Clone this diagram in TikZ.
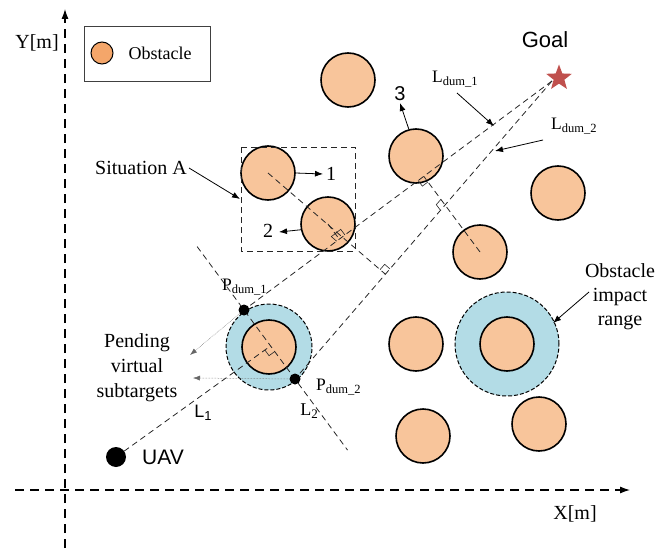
\documentclass[tikz,border=0pt]{standalone}
\usepackage{fontspec}
\setmainfont{Liberation Serif}
\setsansfont{Liberation Sans}
\usetikzlibrary{arrows.meta,shapes.geometric,calc}
\definecolor{peach}{HTML}{F8C59B}
\definecolor{legor}{HTML}{F4A66A}
\definecolor{impblue}{HTML}{B3DCE6}
\definecolor{goalred}{HTML}{C0504D}
\newcommand{\dsub}[1]{{\fontsize{12.5}{12.5}\selectfont\raisebox{-3.5pt}{#1}}}
\newcommand{\ramark}[3]{\draw[ramk] ($(#1)!7pt!(#2)$) -- ($(#1)!7pt!(#2)+(#1)!7pt!(#3)-(#1)$) -- ($(#1)!7pt!(#3)$);}
\begin{document}
\begin{tikzpicture}[x=1pt,y=-1pt,
  obs/.style={circle, draw=black, line width=1.6pt, fill=peach, minimum size=54pt, inner sep=0pt},
  impact/.style={circle, draw=black, dash pattern=on 4pt off 2pt, line width=1pt, fill=impblue, minimum size=#1, inner sep=0pt},
  dline/.style={dash pattern=on 6pt off 4pt, line width=0.8pt, black!85},
  axisline/.style={dash pattern=on 9pt off 6pt, line width=1.1pt, -{Latex[length=10pt,width=7pt]}},
  arr/.style={-{Latex[length=8pt,width=6pt]}, line width=0.8pt},
  parr/.style={-{Latex[length=7pt,width=5pt]}, densely dotted, line width=0.5pt, black!60},
  ramk/.style={line width=0.6pt, black!85},
  dotpt/.style={circle, fill=black, minimum size=#1, inner sep=0pt},
  txt/.style={font=\fontsize{20}{24}\selectfont, inner sep=0pt},
  stxt/.style={font=\sffamily\fontsize{21}{24}\selectfont, inner sep=0pt},
  lab/.style={font=\fontsize{17.5}{20}\selectfont, inner sep=0pt, anchor=west}]
\useasboundingbox (0,0) rectangle (656,551);

% axes
\coordinate (ya) at (65,548); \coordinate (yb) at (65,9);
\coordinate (xa) at (15,490); \coordinate (xb) at (630,490);
\draw[axisline] (ya) -- (yb);
\draw[axisline] (xa) -- (xb);
\node[txt] (ylab) at (37,43) {Y[m]};
\node[txt] (xlab) at (575,514) {X[m]};

% legend
\coordinate (lg1) at (84,26); \coordinate (lg2) at (210,81);
\draw[line width=0.9pt, black!75] (lg1) rectangle (lg2);
\node[circle, draw=black, line width=1pt, fill=legor, minimum size=22pt, inner sep=0pt] (legc) at (102,53) {};
\node[font=\fontsize{18}{20}\selectfont, inner sep=0pt] (legt) at (160,53) {Obstacle};

% impact ranges
\node[impact=86pt] (imp5) at (269,347) {};
\node[impact=104pt] (imp8) at (507,344) {};

% obstacles
\node[obs] (c0) at (348,80) {};
\node[obs] (c1) at (268,173) {};
\node[obs] (c2) at (328,224) {};
\node[obs] (c3) at (416,156) {};
\node[obs] (c4) at (558,193) {};
\node[obs] (c6) at (480,252) {};
\node[obs] (c5) at (269,347) {};
\node[obs] (c7) at (416,344) {};
\node[obs] (c8) at (507,344) {};
\node[obs] (c9) at (423,436) {};
\node[obs] (c10) at (539,424) {};

% key points
\coordinate (gc) at (552,81);
\coordinate (pd1) at (244,310);
\coordinate (pd2) at (295,379);
\coordinate (uavc) at (116,457);

% situation A box
\coordinate (sa1) at (241,147); \coordinate (sa2) at (355,251);
\draw[dline, line width=0.9pt] (sa1) rectangle (sa2);

% dashed construction lines
\draw[dline] (gc) -- (pd1);
\draw[dline] (gc) -- (pd2);
\coordinate (l2a) at ($(pd1)!-0.92!(pd2)$);
\coordinate (l2b) at ($(pd1)!2.03!(pd2)$);
\draw[dline] (l2a) -- (l2b);
\coordinate (x12) at (intersection of uavc--c5.center and pd1--pd2);
\draw[dline] (uavc) -- (x12);
\ramark{x12}{uavc}{pd2}

% perpendiculars
\coordinate (f1) at ($(gc)!(c1.center)!(pd2)$);
\coordinate (i1) at (intersection of c1.center--f1 and gc--pd1);
\draw[dline] (c1.center) -- (f1);
\ramark{f1}{c1.center}{gc}
\ramark{i1}{c1.center}{pd1}
\coordinate (f2) at ($(gc)!(c2.center)!(pd1)$);
\draw[dline] (c2.center) -- (f2);
\ramark{f2}{c2.center}{gc}
\coordinate (f6) at ($(gc)!(c6.center)!(pd1)$);
\coordinate (i6) at (intersection of c6.center--f6 and gc--pd2);
\draw[dline] (c6.center) -- (f6);
\ramark{f6}{c6.center}{pd1}
\ramark{i6}{f6}{pd2}

% goal
\node[star, star points=5, star point ratio=2.4, fill=goalred, minimum size=27pt, inner sep=0pt] (goal) at (559,78) {};
\node[stxt, font=\sffamily\fontsize{22}{24}\selectfont] (goalt) at (545,40) {Goal};

% UAV and points
\node[dotpt=20pt] (uav) at (uavc) {};
\node[stxt] (uavt) at (163,457) {UAV};
\node[dotpt=11pt] (p1) at (pd1) {};
\node[dotpt=11pt] (p2) at (pd2) {};
\node[lab] (p1t) at (222,287) {P\dsub{dum\_1}};
\node[lab] (p2t) at (316,387) {P\dsub{dum\_2}};

% pending virtual subtargets
\node[txt, align=center, font=\fontsize{20}{25}\selectfont] (pend) at (137,368) {Pending\\virtual\\subtargets};
\coordinate (pe1) at (190,355);
\coordinate (pe2) at (193,378);
\draw[parr] (p1) -- (pe1);
\draw[parr] (p2) -- (pe2);

% L labels
\node[font=\sffamily\fontsize{18}{20}\selectfont, inner sep=0pt] (l1t) at (203,413) {L\raisebox{-3pt}{\fontsize{13}{13}\selectfont 1}};
\node[font=\fontsize{18}{20}\selectfont, inner sep=0pt] (l2t) at (309,411) {L\raisebox{-3pt}{\fontsize{13}{13}\selectfont 2}};

% Ldum labels
\node[lab] (ld1) at (432,79) {L\dsub{dum\_1}};
\node[lab] (ld2) at (551,126) {L\dsub{dum\_2}};
\coordinate (ld1a) at (457,93); \coordinate (ld1b) at (494,126);
\coordinate (ld2a) at (543,140); \coordinate (ld2b) at (495,151);
\draw[arr] (ld1a) -- (ld1b);
\draw[arr] (ld2a) -- (ld2b);

% situation A
\node[txt] (sit) at (141,168) {Situation A};
\coordinate (sitb) at (240,199);
\draw[arr] (sit.east) ++(2,0) coordinate (sitc) (sitc) -- (sitb);

% numbered arrows
\coordinate (a1) at (323,174);
\draw[arr] (c1.east) -- (a1);
\node[txt] (n1) at (331,174) {1};
\coordinate (a2) at (279,232);
\draw[arr] (c2.192) -- (a2);
\node[txt] (n2) at (268,231) {2};
\coordinate (a3) at (400,103);
\draw[arr] (c3.105) -- (a3);
\node[stxt, font=\sffamily\fontsize{20}{22}\selectfont] (n3) at (400,94) {3};

% obstacle impact range
\node[txt, align=center, font=\fontsize{20}{24}\selectfont] (oir) at (620,297) {Obstacle\\impact\\range};
\coordinate (oa) at (589,292); \coordinate (ob) at (553,323);
\draw[arr] (oa) -- (ob);
\end{tikzpicture}
\end{document}
